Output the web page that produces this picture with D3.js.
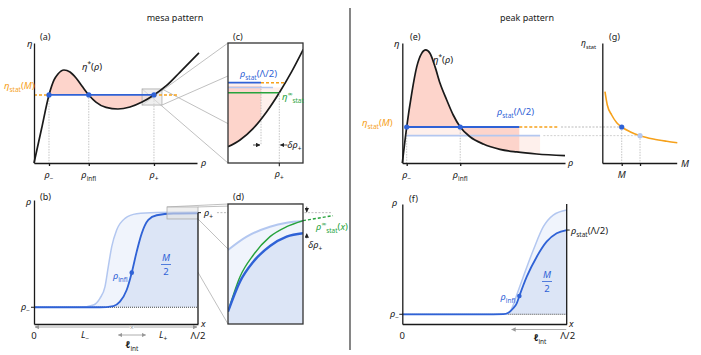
<!DOCTYPE html>
<html><head><meta charset="utf-8">
<script src="https://cdn.jsdelivr.net/npm/d3@7"></script>
<style>body{margin:0;background:#fff} text{font-family:'Noto Sans','DejaVu Sans',sans-serif}</style>
</head><body><script>
// ================= DATA =================
// --- (a) mesa: eta*(rho), normalized [rho, eta]
const mesaEtaCurve = [[0,0],[0.046,0.283],[0.092,0.567],[0.123,0.692],[0.147,0.742],[0.184,0.775],[0.221,0.758],[0.258,0.708],[0.294,0.642],[0.336,0.567],[0.380,0.508],[0.442,0.463],[0.515,0.450],[0.589,0.467],[0.663,0.508],[0.736,0.567],[0.810,0.642],[0.896,0.758],[1.012,0.917]];
const mesaRhoTicks = [0.092, 0.336, 0.736];          // rho-, rho_infl, rho+
const mesaEtaStat = 0.567;
const mesaOrangeEnd = 0.890;
const mesaZoomBox = [0.663, 0.785, 0.483, 0.617];    // rho0, rho1, eta0, eta1
// --- (c) zoom of (a)
const zoomCCurve = [[0,0.136],[0.16,0.192],[0.337,0.289],[0.516,0.428],[0.684,0.586],[0.849,0.761],[1.004,0.947]];
const zoomCLevels = [0.669, 0.642, 0.629, 0.586];    // rho_stat(L/2), fill edge, light rho_stat, eta_inf
const zoomCRho = [0.44, 0.684];                      // inner mark, rho+
const zoomCEnds = [0.762, 0.725, 0.60];              // orange end, light fill end, light line end
const zoomCArrowY = 0.15;
// --- (b) mesa profile rho(x)
const mesaProfile = [[0,0.135],[0.402,0.135],[0.484,0.145],[0.524,0.180],[0.565,0.274],[0.596,0.414],[0.626,0.583],[0.657,0.731],[0.697,0.839],[0.748,0.877],[0.850,0.891],[1.0,0.893]];
const mesaProfileLight = [[0,0.135],[0.280,0.135],[0.362,0.153],[0.402,0.207],[0.433,0.301],[0.453,0.462],[0.474,0.624],[0.504,0.758],[0.555,0.852],[0.626,0.889],[0.748,0.899],[1.0,0.903]];
const mesaRhoLevels = [0.135, 0.898];                // rho-, rho+
const mesaInfl = [0.596, 0.414];
const mesaLPos = [0.311, 0.787];                     // L-, L+
const mesaEllInt = [0.514, 0.681];
const profileZoomBox = [0.811, 1.0, 0.847, 0.944];
// --- (d) zoom of (b)
const zoomDDark = [[0,0.103],[0.16,0.353],[0.338,0.519],[0.56,0.65],[0.782,0.728],[1.0,0.756]];
const zoomDLight = [[0,0.617],[0.249,0.728],[0.56,0.811],[0.782,0.844],[1.0,0.858]];
const zoomDGreen = [[0,0.103],[0.16,0.394],[0.338,0.575],[0.56,0.728],[0.782,0.811],[1.0,0.861]];
const zoomDGreenExt = [[1.0,0.861],[1.4,0.903]];
const zoomDLevels = [0.928, 0.756];                  // rho+, rho_stat
// --- (e) peak: eta*(rho)
const peakEtaCurve = [[0,0],[0.017,0.192],[0.027,0.3],[0.058,0.581],[0.089,0.803],[0.119,0.914],[0.144,0.942],[0.170,0.914],[0.201,0.803],[0.232,0.664],[0.273,0.525],[0.313,0.4],[0.356,0.3],[0.416,0.219],[0.498,0.158],[0.600,0.114],[0.703,0.092],[0.826,0.075],[1.0,0.061]];
const peakRhoTicks = [0.027, 0.356];                 // rho-, rho_infl
const peakEtaStat = [0.3, 0.228];                    // M, M'
const peakEnds = [0.719, 0.957, 0.847, 0.867];       // blue end, orange end, light end, light gray start
// --- (g) eta_stat(M)
const statCurve = [[0.036,0.594],[0.067,0.483],[0.126,0.4],[0.194,0.336],[0.261,0.3],[0.372,0.261],[0.507,0.228],[0.685,0.2],[0.866,0.181],[1.008,0.169]];
const statM = [0.261, 0.507];
// --- (f) peak profile
const peakProfile = [[0,0.081],[0.493,0.081],[0.614,0.083],[0.645,0.094],[0.675,0.131],[0.696,0.172],[0.712,0.233],[0.757,0.394],[0.818,0.561],[0.878,0.686],[0.939,0.756],[1.0,0.783]];
const peakProfileLight = [[0,0.081],[0.6,0.081],[0.635,0.082],[0.655,0.103],[0.675,0.158],[0.696,0.242],[0.736,0.394],[0.797,0.617],[0.858,0.811],[0.918,0.908],[1.0,0.95]];
const peakRhoMinus = 0.081, peakRhoStat = 0.783;
const peakInfl = [0.712, 0.233];
const peakEllInt = [0.665, 0.997];

// ================= STYLE =================
const SALMON="#fdd4cb", LPINK="#fef0ec", BLUE="#2f62d6", LBLUE="#b3c7f0", ORANGE="#f6a11b",
      GREEN="#27a33c", FILLB="#dce5f6", FILLLB="#f0f4fc", GRAYL="#b5b5b5", INK="#1a1a1a";
const BASE=9.5;

const svg = d3.select("body").append("svg").attr("width",701).attr("height",355);
const defs = svg.append("defs");
let clipN=0;
function clip(x0,y0,x1,y1){const id="cp"+(clipN++);defs.append("clipPath").attr("id",id).append("rect")
  .attr("x",Math.min(x0,x1)).attr("y",Math.min(y0,y1)).attr("width",Math.abs(x1-x0)).attr("height",Math.abs(y1-y0));return `url(#${id})`;}
function marker(id,color){defs.append("marker").attr("id",id).attr("viewBox","0 0 10 10").attr("refX",9).attr("refY",5)
  .attr("markerWidth",4.5).attr("markerHeight",4.5).attr("markerUnits","userSpaceOnUse").attr("orient","auto-start-reverse")
  .append("path").attr("d","M0,0L10,5L0,10z").attr("fill",color);}
marker("ag","#999"); marker("ak","#222");

function tex(parent,x,y,parts,o={}){
  const size=o.size||BASE;
  const t=parent.append("text").attr("x",x).attr("y",y).attr("font-size",size).attr("fill",o.color||INK).attr("text-anchor",o.anchor||"start");
  let cur=0;
  const add=(txt,shift,fs,p)=>{const s=t.append("tspan").text(txt).attr("font-size",fs).attr("dy",shift-cur);cur=shift;
    if(p&&p.it)s.attr("font-style","italic"); if(p&&p.bold)s.attr("font-weight","bold"); return s;};
  for(const p of parts){
    if(p.sub!==undefined) add(p.sub,size*0.3,size*0.68);
    else if(p.sup!==undefined) add(p.sup,-size*0.42,size*0.68);
    else if(p.stack){add(p.stack[0],-size*0.42,size*0.68);add(p.stack[1],size*0.3,size*0.68).attr("dx",-0.5);}
    else add(p.t,0,size,p);
  }
  return t;
}
function seg(g,x1,y1,x2,y2,stroke,w,dash){const l=g.append("line").attr("x1",x1).attr("y1",y1).attr("x2",x2).attr("y2",y2)
  .attr("stroke",stroke).attr("stroke-width",w);if(dash)l.attr("stroke-dasharray",dash);return l;}
const lineGen=(xs,ys)=>d3.line().x(d=>xs(d[0])).y(d=>ys(d[1])).curve(d3.curveMonotoneX);
const areaGen=(xs,ys,base)=>d3.area().x(d=>xs(d[0])).y0(ys(base)).y1(d=>ys(d[1])).curve(d3.curveMonotoneX);
function frac(g,x,y,color){tex(g,x,y,[{t:"M",it:1}],{anchor:"middle",color});seg(g,x-5,y+3.5,x+5,y+3.5,color,0.8);tex(g,x,y+14,[{t:"2"}],{anchor:"middle",color});}
function axes(g,xs,ys,ticks){
  g.append("g").attr("transform",`translate(0,${ys.range()[0]})`).call(d3.axisBottom(xs).tickValues(ticks||[]).tickSize(3).tickSizeOuter(0).tickFormat(""))
   .call(a=>a.selectAll("path,line").attr("stroke",INK).attr("stroke-width",1.3));
  g.append("g").attr("transform",`translate(${xs.range()[0]},0)`).call(d3.axisLeft(ys).tickValues([]).tickSizeOuter(0))
   .call(a=>a.selectAll("path").attr("stroke",INK).attr("stroke-width",1.3));
}
const rhoSub=s=>[{t:"ρ",it:1},{sub:s}];

// titles & divider
svg.append("text").attr("x",175).attr("y",21).attr("text-anchor","middle").attr("font-size",9).attr("fill",INK).text("mesa pattern");
svg.append("text").attr("x",527).attr("y",21).attr("text-anchor","middle").attr("font-size",9).attr("fill",INK).text("peak pattern");
seg(svg,350,8,350,350,"#222",1.1);

// ================= (a) =================
const xA=d3.scaleLinear([0,1],[34,197]), yA=d3.scaleLinear([0,1],[163,43]);
const xC=d3.scaleLinear([0,1],[228,303]), yC=d3.scaleLinear([0,1],[163,43]);
const gA=svg.append("g");
[[0,2,0,0],[1,2,1,0],[0,3,0,1],[1,3,1,1]].forEach(([i,j,a,b])=>seg(gA,xA(mesaZoomBox[i]),yA(mesaZoomBox[j]),xC(a),yC(b===0?1:0),"#b0b0b0",0.8));
gA.append("path").datum(mesaEtaCurve).attr("d",areaGen(xA,yA,mesaEtaStat)).attr("fill",SALMON)
  .attr("clip-path",clip(xA(mesaRhoTicks[0]),0,xA(mesaRhoTicks[2]),355));
mesaRhoTicks.forEach(r=>seg(gA,xA(r),yA(mesaEtaStat),xA(r),yA(0),GRAYL,0.8,"1.5,1.2"));
gA.append("rect").attr("x",xA(mesaZoomBox[0])).attr("y",yA(mesaZoomBox[3])).attr("width",xA(mesaZoomBox[1])-xA(mesaZoomBox[0]))
  .attr("height",yA(mesaZoomBox[2])-yA(mesaZoomBox[3])).attr("fill","#e4e4e4").attr("fill-opacity",0.6).attr("stroke","#aaa").attr("stroke-width",0.8);
seg(gA,xA(0),yA(mesaEtaStat),xA(mesaRhoTicks[0]),yA(mesaEtaStat),ORANGE,1.4,"3,2");
seg(gA,xA(mesaRhoTicks[2]),yA(mesaEtaStat),xA(mesaOrangeEnd),yA(mesaEtaStat),ORANGE,1.4,"3,2");
seg(gA,xA(mesaRhoTicks[0]),yA(mesaEtaStat),xA(mesaRhoTicks[2]),yA(mesaEtaStat),BLUE,1.8);
gA.append("path").datum(mesaEtaCurve).attr("d",lineGen(xA,yA)).attr("fill","none").attr("stroke",INK).attr("stroke-width",1.7);
mesaRhoTicks.forEach(r=>gA.append("circle").attr("cx",xA(r)).attr("cy",yA(mesaEtaStat)).attr("r",2.6).attr("fill",BLUE));
axes(gA,xA,yA,mesaRhoTicks);
tex(gA,27,47,[{t:"η",it:1}]); tex(gA,40,40,[{t:"(a)"}],{size:9});
tex(gA,82,70,[{t:"η",it:1},{sup:"*"},{t:"("},{t:"ρ",it:1},{t:")"}]);
tex(gA,4,89,[{t:"η",it:1},{sub:"stat"},{t:"("},{t:"M",it:1},{t:")"}],{color:ORANGE});
[["−"],["infl"],["+"]].forEach((s,i)=>tex(gA,xA(mesaRhoTicks[i]),178,rhoSub(s[0]),{anchor:"middle"}));
tex(gA,201,166,[{t:"ρ",it:1}]);

// ================= (c) =================
const gC=svg.append("g");
gC.append("rect").attr("x",xC(0)).attr("y",yC(1)).attr("width",xC(1)-xC(0)).attr("height",yC(0)-yC(1)).attr("fill","#fff");
const gCi=gC.append("g").attr("clip-path",clip(xC(0),yC(1),xC(1),yC(0)));
gCi.append("path").datum(zoomCCurve).attr("d",areaGen(xC,yC,zoomCLevels[0])).attr("fill",LPINK).attr("clip-path",clip(xC(0),0,xC(zoomCRho[0]),355));
gCi.append("path").datum(zoomCCurve).attr("d",areaGen(xC,yC,zoomCLevels[2])).attr("fill",LPINK).attr("clip-path",clip(xC(zoomCRho[0]),0,xC(zoomCEnds[1]),355));
gCi.append("path").datum(zoomCCurve).attr("d",areaGen(xC,yC,zoomCLevels[1])).attr("fill",SALMON).attr("clip-path",clip(xC(0),0,xC(zoomCRho[0]),355));
seg(gCi,xC(zoomCRho[0]),yC(zoomCLevels[1]),xC(zoomCRho[0]),yC(zoomCArrowY),GRAYL,0.8,"1.5,1.2");
seg(gC,xC(zoomCRho[1]),yC(zoomCLevels[3]),xC(zoomCRho[1]),yC(0)+4,GRAYL,0.8,"1.5,1.2");
seg(gCi,xC(0),yC(zoomCLevels[2]),xC(zoomCEnds[2]),yC(zoomCLevels[2]),LBLUE,1.6);
seg(gCi,xC(0),yC(zoomCLevels[3]),xC(zoomCRho[1]),yC(zoomCLevels[3]),GREEN,1.6);
seg(gCi,xC(zoomCRho[0]),yC(zoomCLevels[0]),xC(zoomCEnds[0]),yC(zoomCLevels[0]),ORANGE,1.4,"3,2");
seg(gCi,xC(0),yC(zoomCLevels[0]),xC(zoomCRho[0]),yC(zoomCLevels[0]),BLUE,1.8);
gCi.append("path").datum(zoomCCurve).attr("d",lineGen(xC,yC)).attr("fill","none").attr("stroke",INK).attr("stroke-width",1.7);
gC.append("rect").attr("x",xC(0)).attr("y",yC(1)).attr("width",xC(1)-xC(0)).attr("height",yC(0)-yC(1)).attr("fill","none").attr("stroke","#333").attr("stroke-width",1.3);
seg(gC,xC(zoomCRho[1]),yC(0),xC(zoomCRho[1]),yC(0)+3,INK,1);
seg(gC,xC(zoomCRho[0])-8,yC(zoomCArrowY),xC(zoomCRho[0])-1,yC(zoomCArrowY),"#222",0.8).attr("marker-end","url(#ak)");
seg(gC,xC(zoomCRho[1])+8,yC(zoomCArrowY),xC(zoomCRho[1])+1,yC(zoomCArrowY),"#222",0.8).attr("marker-end","url(#ak)");
tex(gC,xC(zoomCRho[1])+8,148,[{t:"δρ",it:1},{sub:"+"}]);
tex(gC,233,40,[{t:"(c)"}],{size:9});
tex(gC,240,77,[{t:"ρ",it:1},{sub:"stat"},{t:"(Λ/2)"}],{color:BLUE});
tex(gC,282,100,[{t:"η",it:1},{stack:["∞","stat"]}],{color:GREEN});
tex(gC,xC(zoomCRho[1]),177,rhoSub("+"),{anchor:"middle"});

// ================= (b) =================
const xB=d3.scaleLinear([0,1],[34,198]), yB=d3.scaleLinear([0,1],[324,200]);
const xD=d3.scaleLinear([0,1],[228,303]), yD=d3.scaleLinear([0,1],[324,204]);
const gB=svg.append("g");
[[0,3,0,1],[1,3,1,1],[0,2,0,0],[1,2,1,0]].forEach(([i,j,a,b])=>seg(gB,xB(profileZoomBox[i]),yB(profileZoomBox[j]),xD(a),yD(b),"#b0b0b0",0.8));
const cpB=clip(xB(0),yB(1),xB(1),yB(0));
gB.append("path").datum(mesaProfileLight).attr("d",areaGen(xB,yB,mesaRhoLevels[0])).attr("fill",FILLLB).attr("clip-path",cpB);
gB.append("path").datum(mesaProfile).attr("d",areaGen(xB,yB,mesaRhoLevels[0])).attr("fill",FILLB).attr("clip-path",cpB);
seg(gB,xB(0),yB(mesaRhoLevels[0]),xB(1),yB(mesaRhoLevels[0]),"#333",0.9,"1,1");
gB.append("path").datum(mesaProfileLight).attr("d",lineGen(xB,yB)).attr("fill","none").attr("stroke",LBLUE).attr("stroke-width",1.5);
gB.append("path").datum(mesaProfile).attr("d",lineGen(xB,yB)).attr("fill","none").attr("stroke",BLUE).attr("stroke-width",1.8);
gB.append("circle").attr("cx",xB(mesaInfl[0])).attr("cy",yB(mesaInfl[1])).attr("r",2.3).attr("fill",BLUE);
gB.append("rect").attr("x",xB(profileZoomBox[0])).attr("y",yB(profileZoomBox[3])).attr("width",xB(profileZoomBox[1])-xB(profileZoomBox[0]))
  .attr("height",yB(profileZoomBox[2])-yB(profileZoomBox[3])).attr("fill","#e4e4e4").attr("fill-opacity",0.6).attr("stroke","#aaa").attr("stroke-width",0.8);
axes(gB,xB,yB,[]);
seg(gB,xB(1),yB(0),xB(1),yB(mesaRhoLevels[1]),INK,1.3);
seg(gB,xB(0)-3,yB(mesaRhoLevels[0]),xB(0),yB(mesaRhoLevels[0]),INK,1);
seg(gB,xB(1),yB(mesaRhoLevels[1]),xB(1)+3,yB(mesaRhoLevels[1]),INK,1);
seg(gB,xD(-0.147),yB(mesaRhoLevels[1]),xD(1.39),yB(mesaRhoLevels[1]),"#aaa",0.8,"2,1.5");
seg(gB,xB(mesaInfl[0])-2,327,xB(0)+1,327,"#999",0.8).attr("marker-end","url(#ag)");
seg(gB,xB(mesaInfl[0])+2,327,xB(1)-1,327,"#999",0.8).attr("marker-end","url(#ag)");
tex(gB,xB(mesaInfl[0]),330,[{t:"×"}],{anchor:"middle",size:7,color:"#999"});
seg(gB,xB(mesaEllInt[0]),335,xB(mesaEllInt[1]),335,"#999",0.8).attr("marker-end","url(#ag)").attr("marker-start","url(#ag)");
tex(gB,xB(mesaLPos[0]),338,[{t:"L",it:1},{sub:"−"}],{anchor:"middle"});
tex(gB,xB(mesaLPos[1]),338,[{t:"L",it:1},{sub:"+"}],{anchor:"middle"});
tex(gB,xB((mesaEllInt[0]+mesaEllInt[1])/2),348,[{t:"ℓ",it:1,bold:1},{sub:"int"}],{anchor:"middle"});
tex(gB,xB(0),339,[{t:"0"}],{anchor:"middle"});
tex(gB,xB(1),339,[{t:"Λ/2"}],{anchor:"middle"});
tex(gB,201,327,[{t:"x",it:1}]);
tex(gB,26,205,[{t:"ρ",it:1}]); tex(gB,40,200,[{t:"(b)"}],{size:9});
tex(gB,30,310,rhoSub("−"),{anchor:"end"});
tex(gB,204,216,rhoSub("+"));
tex(gB,xB(mesaInfl[0])-4,279,rhoSub("infl"),{anchor:"end",color:BLUE});
frac(gB,166,261,BLUE);

// ================= (d) =================
const gD=svg.append("g");
gD.append("rect").attr("x",xD(0)).attr("y",yD(1)).attr("width",xD(1)-xD(0)).attr("height",yD(0)-yD(1)).attr("fill","#fff");
const gDi=gD.append("g").attr("clip-path",clip(xD(0),yD(1),xD(1),yD(0)));
gDi.append("path").datum(zoomDLight).attr("d",areaGen(xD,yD,0)).attr("fill",FILLLB);
gDi.append("path").datum(zoomDDark).attr("d",areaGen(xD,yD,0)).attr("fill",FILLB);
gDi.append("path").datum(zoomDLight).attr("d",lineGen(xD,yD)).attr("fill","none").attr("stroke",LBLUE).attr("stroke-width",2);
gDi.append("path").datum(zoomDGreen).attr("d",lineGen(xD,yD)).attr("fill","none").attr("stroke",GREEN).attr("stroke-width",1.4);
gDi.append("path").datum(zoomDDark).attr("d",lineGen(xD,yD)).attr("fill","none").attr("stroke",BLUE).attr("stroke-width",2.4);
gD.append("path").datum(zoomDGreenExt).attr("d",lineGen(xD,yD)).attr("fill","none").attr("stroke",GREEN).attr("stroke-width",1.4).attr("stroke-dasharray","3,2");
gD.append("rect").attr("x",xD(0)).attr("y",yD(1)).attr("width",xD(1)-xD(0)).attr("height",yD(0)-yD(1)).attr("fill","none").attr("stroke","#333").attr("stroke-width",1.3);
seg(gD,xD(1.05),yD(zoomDLevels[0])-6,xD(1.05),yD(zoomDLevels[0])-0.5,"#222",0.8).attr("marker-end","url(#ak)");
seg(gD,xD(1.05),yD(zoomDLevels[1])+5,xD(1.05),yD(zoomDLevels[1])+0.5,"#222",0.8).attr("marker-end","url(#ak)");
tex(gD,308,248,[{t:"δρ",it:1},{sub:"+"}]);
tex(gD,233,200,[{t:"(d)"}],{size:9});
tex(gD,316,230,[{t:"ρ",it:1},{stack:["∞","stat"]},{t:"("},{t:"x",it:1},{t:")"}],{color:GREEN});

// ================= (e) =================
const xE=d3.scaleLinear([0,1],[402.3,565]), yE=d3.scaleLinear([0,1],[163,43]);
const xG=d3.scaleLinear([0,1],[602.3,676.7]);
const gE=svg.append("g");
gE.append("path").datum(peakEtaCurve).attr("d",areaGen(xE,yE,peakEtaStat[1])).attr("fill",LPINK).attr("clip-path",clip(xE(peakRhoTicks[0]),0,xE(peakEnds[2]),355));
gE.append("path").datum(peakEtaCurve).attr("d",areaGen(xE,yE,peakEtaStat[0])).attr("fill",SALMON).attr("clip-path",clip(xE(peakRhoTicks[0]),0,xE(peakEnds[0]),355));
peakRhoTicks.forEach(r=>seg(gE,xE(r),yE(peakEtaStat[0]),xE(r),yE(0),GRAYL,0.8,"1.5,1.2"));
seg(gE,xE(peakEnds[3]),yE(peakEtaStat[1]),xG(statM[1]),yE(peakEtaStat[1]),"#c4c4c4",0.8,"2,1.5");
seg(gE,xE(peakEnds[1])+3,yE(peakEtaStat[0]),xG(statM[0]),yE(peakEtaStat[0]),"#aaa",0.8,"2,1.5");
seg(gE,xE(peakRhoTicks[0]),yE(peakEtaStat[1]),xE(peakEnds[2]),yE(peakEtaStat[1]),LBLUE,1.6);
seg(gE,xE(peakEnds[0]),yE(peakEtaStat[0]),xE(peakEnds[1]),yE(peakEtaStat[0]),ORANGE,1.4,"3,2");
seg(gE,xE(peakRhoTicks[0]),yE(peakEtaStat[0]),xE(peakEnds[0]),yE(peakEtaStat[0]),BLUE,1.8);
gE.append("path").datum(peakEtaCurve).attr("d",lineGen(xE,yE)).attr("fill","none").attr("stroke",INK).attr("stroke-width",1.7);
peakRhoTicks.forEach(r=>gE.append("circle").attr("cx",xE(r)).attr("cy",yE(peakEtaStat[0])).attr("r",2.6).attr("fill",BLUE));
axes(gE,xE,yE,peakRhoTicks);
tex(gE,394,47,[{t:"η",it:1}]); tex(gE,410,40,[{t:"(e)"}],{size:9});
tex(gE,433,63,[{t:"η",it:1},{sup:"*"},{t:"("},{t:"ρ",it:1},{t:")"}]);
tex(gE,362,126,[{t:"η",it:1},{sub:"stat"},{t:"("},{t:"M",it:1},{t:")"}],{color:ORANGE});
tex(gE,497,115,[{t:"ρ",it:1},{sub:"stat"},{t:"(Λ/2)"}],{color:BLUE});
tex(gE,xE(peakRhoTicks[0]),178,rhoSub("−"),{anchor:"middle"});
tex(gE,xE(peakRhoTicks[1]),178,rhoSub("infl"),{anchor:"middle"});
tex(gE,568,166,[{t:"ρ",it:1}]);

// ================= (g) =================
const gG=svg.append("g");
statM.forEach((m,i)=>seg(gG,xG(m),yE(peakEtaStat[i]),xG(m),yE(0),GRAYL,0.8,"1.5,1.2"));
gG.append("path").datum(statCurve).attr("d",lineGen(xG,yE)).attr("fill","none").attr("stroke",ORANGE).attr("stroke-width",1.6);
gG.append("circle").attr("cx",xG(statM[0])).attr("cy",yE(peakEtaStat[0])).attr("r",2.6).attr("fill",BLUE);
gG.append("circle").attr("cx",xG(statM[1])).attr("cy",yE(peakEtaStat[1])).attr("r",2.6).attr("fill",LBLUE);
axes(gG,xG,yE,statM);
tex(gG,581,46,[{t:"η",it:1},{sub:"stat"}],{size:8.5});
tex(gG,609,40,[{t:"(g)"}],{size:9});
tex(gG,681,167,[{t:"M",it:1}]);
tex(gG,xG(statM[0]),178,[{t:"M",it:1}],{anchor:"middle"});

// ================= (f) =================
const xF=d3.scaleLinear([0,1],[402.3,566.7]), yF=d3.scaleLinear([0,1],[324,204]);
const gF=svg.append("g");
const cpF=clip(xF(0),yF(1),xF(1),yF(0));
gF.append("path").datum(peakProfileLight).attr("d",areaGen(xF,yF,peakRhoMinus)).attr("fill",FILLLB).attr("clip-path",cpF);
gF.append("path").datum(peakProfile).attr("d",areaGen(xF,yF,peakRhoMinus)).attr("fill",FILLB).attr("clip-path",cpF);
seg(gF,xF(0),yF(peakRhoMinus),xF(1),yF(peakRhoMinus),"#333",0.9,"1,1");
gF.append("path").datum(peakProfileLight).attr("d",lineGen(xF,yF)).attr("fill","none").attr("stroke",LBLUE).attr("stroke-width",1.5);
gF.append("path").datum(peakProfile).attr("d",lineGen(xF,yF)).attr("fill","none").attr("stroke",BLUE).attr("stroke-width",1.8);
gF.append("circle").attr("cx",xF(peakInfl[0])).attr("cy",yF(peakInfl[1])).attr("r",2.3).attr("fill",BLUE);
axes(gF,xF,yF,[]);
seg(gF,xF(1),yF(0),xF(1),yF(1),INK,1.3);
seg(gF,xF(0)-3,yF(peakRhoMinus),xF(0),yF(peakRhoMinus),INK,1);
seg(gF,xF(1),yF(peakRhoStat),xF(1)+3,yF(peakRhoStat),INK,1);
seg(gF,xF(peakEllInt[1]),329.5,xF(peakEllInt[0]),329.5,"#999",0.8).attr("marker-end","url(#ag)");
tex(gF,540,341,[{t:"ℓ",it:1,bold:1},{sub:"int"}],{anchor:"middle"});
tex(gF,xF(0),339,[{t:"0"}],{anchor:"middle"});
tex(gF,xF(1)+1,339,[{t:"Λ/2"}],{anchor:"middle"});
tex(gF,569,327,[{t:"x",it:1}]);
tex(gF,392,206,[{t:"ρ",it:1}]); tex(gF,409,202,[{t:"(f)"}],{size:9});
tex(gF,399,317,rhoSub("−"),{anchor:"end"});
tex(gF,571,234,[{t:"ρ",it:1},{sub:"stat"},{t:"(Λ/2)"}]);
tex(gF,xF(peakInfl[0])-4,300,rhoSub("infl"),{anchor:"end",color:BLUE});
frac(gF,547,278,BLUE);
</script></body></html>
